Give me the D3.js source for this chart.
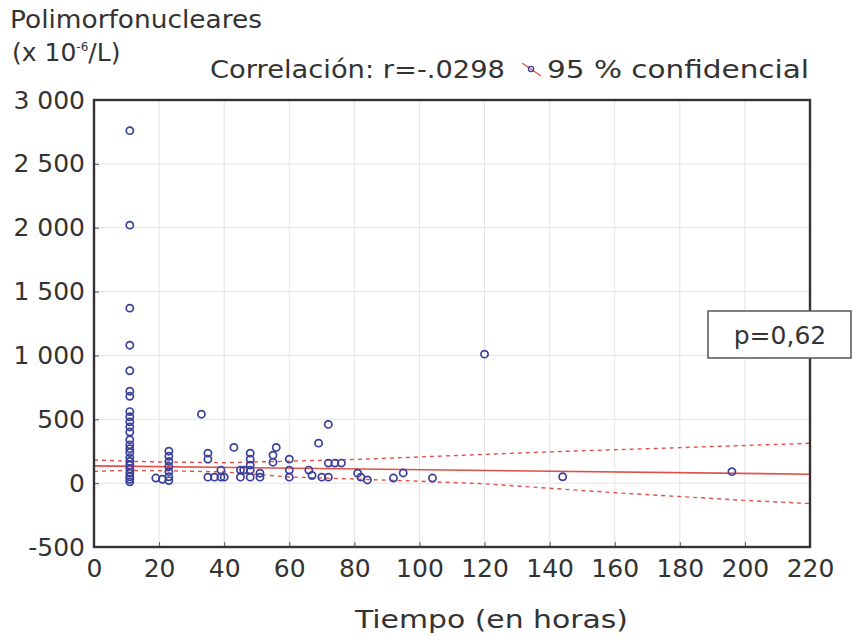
<!DOCTYPE html>
<html>
<head>
<meta charset="utf-8">
<script src="https://cdn.jsdelivr.net/npm/d3@7"></script>
<style>
body{margin:0;background:#fff;}
text{font-family:"DejaVu Sans",Verdana,sans-serif;fill:#333;}
</style>
</head>
<body>
<div id="root"></div>
<script>
// data
var horas = [11,11,11,11,11,11,11,11,11,11,11,11,11,11,11,11,11,11,11,11,11,11,11,11,
             19,21,23,23,23,23,23,23,23,
             33,35,35,35,37,39,39,40,43,45,45,46,48,48,48,48,48,51,51,55,55,56,
             60,60,60,66,67,69,70,72,72,72,74,76,81,82,84,92,95,104,120,144,196];
var pmn = [2760,2020,1370,1080,880,720,680,560,520,480,440,400,340,300,270,240,200,170,140,110,80,50,30,10,
           40,30,250,210,170,130,90,50,20,
           540,235,188,47,47,47,102,47,280,47,102,102,235,188,141,102,47,78,47,219,164,280,
           188,102,47,102,60,313,47,460,47,157,157,157,78,47,25,40,80,40,1010,50,90];

// regression line and 95% band
var lineX = [0,220];
var lineY = [135,70];
var bandX = [0,10,20,40,60,80,100,120,140,160,180,200,220];
var bandHi = [182,172,166,160,172,185,205,225,245,262,278,295,312];
var bandLo = [92,100,98,88,48,32,15,-5,-40,-75,-105,-135,-160];

var xTicks = [0,20,40,60,80,100,120,140,160,180,200,220];
var yTicks = [-500,0,500,1000,1500,2000,2500,3000];

var margin = {t:100, r:43, b:90, l:94};
var W = 853, H = 637;
var w = W - margin.l - margin.r;
var h = H - margin.t - margin.b;
var fs = '25px';

var svg = d3.select('#root').append('svg')
  .attr('width', W).attr('height', H);

var g = svg.append('g').attr('transform','translate('+margin.l+','+margin.t+')');

var xScale = d3.scaleLinear().domain([0,220]).range([0,w]);
var yScale = d3.scaleLinear().domain([-500,3000]).range([h,0]);

var fmt = function(d){ return d3.format(',')(d).replace(',', ' ').replace('\u2212','-'); };

// grid
g.append('g').selectAll('line').data(xTicks).enter().append('line')
  .attr('x1', d => xScale(d)).attr('x2', d => xScale(d))
  .attr('y1', 0).attr('y2', h)
  .attr('stroke','#e4e4e4').attr('stroke-width',1);
g.append('g').selectAll('line').data(yTicks).enter().append('line')
  .attr('x1', 0).attr('x2', w)
  .attr('y1', d => yScale(d)).attr('y2', d => yScale(d))
  .attr('stroke','#e4e4e4').attr('stroke-width',1);

// axes (ticks inward)
var xAxis = g.append('g').attr('transform','translate(0,'+h+')')
  .call(d3.axisBottom(xScale).tickValues(xTicks).tickSize(-5).tickPadding(12));
var yAxis = g.append('g')
  .call(d3.axisLeft(yScale).tickValues(yTicks).tickSize(-5).tickPadding(9).tickFormat(fmt));
[xAxis, yAxis].forEach(function(a){
  a.select('.domain').remove();
  a.selectAll('line').attr('stroke','#555');
  a.selectAll('text').style('font-size',fs).style('font-family','"DejaVu Sans",Verdana,sans-serif').attr('fill','#333');
});

// band + fit
var line = d3.line().x(d => xScale(d[0])).y(d => yScale(d[1]));
g.append('path').datum(bandX.map((x,i) => [x, bandHi[i]]))
  .attr('d', line).attr('fill','none').attr('stroke','#e0504a')
  .attr('stroke-width',1.4).attr('stroke-dasharray','4,4');
g.append('path').datum(bandX.map((x,i) => [x, bandLo[i]]))
  .attr('d', line).attr('fill','none').attr('stroke','#e0504a')
  .attr('stroke-width',1.4).attr('stroke-dasharray','4,4');
g.append('path').datum(lineX.map((x,i) => [x, lineY[i]]))
  .attr('d', line).attr('fill','none').attr('stroke','#e0504a').attr('stroke-width',1.6);

// points
g.append('g').selectAll('circle').data(horas).enter().append('circle')
  .attr('cx', (d,i) => xScale(d))
  .attr('cy', (d,i) => yScale(pmn[i]))
  .attr('r', 3.6)
  .attr('fill','none').attr('stroke','#3a3f9a').attr('stroke-width',1.7);

// frame
g.append('rect').attr('x',0).attr('y',0).attr('width',w).attr('height',h)
  .attr('fill','none').attr('stroke','#333').attr('stroke-width',2.4);

// p box
svg.append('rect').attr('x',708).attr('y',311).attr('width',143).attr('height',47)
  .attr('fill','#fff').attr('stroke','#555').attr('stroke-width',1.5);
svg.append('text').attr('x',780).attr('y',344).attr('text-anchor','middle')
  .style('font-size',fs).text('p=0,62');

// titles
svg.append('text').attr('x',10).attr('y',28).style('font-size',fs)
  .attr('textLength',252).attr('lengthAdjust','spacingAndGlyphs').text('Polimorfonucleares');
var t2 = svg.append('text').attr('x',12).attr('y',61).style('font-size',fs);
t2.append('tspan').text('(x 10');
t2.append('tspan').attr('dy',-10).style('font-size','12px').text('-6');
t2.append('tspan').attr('dy',10).text('/L)');
svg.append('text').attr('x',210).attr('y',78).style('font-size',fs)
  .attr('textLength',295).attr('lengthAdjust','spacingAndGlyphs').text('Correlación: r=-.0298');
svg.append('text').attr('x',547).attr('y',78).style('font-size',fs)
  .attr('textLength',262).attr('lengthAdjust','spacingAndGlyphs').text('95 % confidencial');
// legend symbol
svg.append('line').attr('x1',522).attr('y1',63).attr('x2',541).attr('y2',76)
  .attr('stroke','#e0504a').attr('stroke-width',1.3);
svg.append('circle').attr('cx',531).attr('cy',69).attr('r',2.6)
  .attr('fill','none').attr('stroke','#3a3f9a').attr('stroke-width',1.3);
svg.append('text').attr('x',355).attr('y',628).style('font-size',fs)
  .attr('textLength',273).attr('lengthAdjust','spacingAndGlyphs').text('Tiempo (en horas)');
</script>
</body>
</html>
